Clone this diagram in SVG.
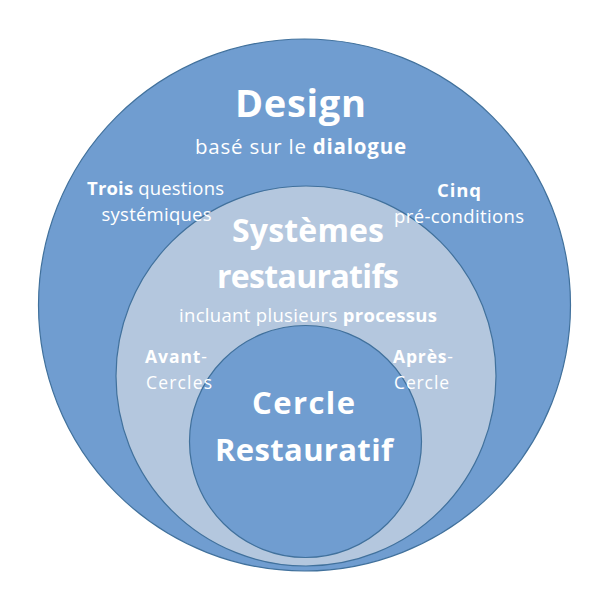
<svg xmlns="http://www.w3.org/2000/svg" width="606" height="599" viewBox="0 0 606 599">
<style>
.c{stroke:#41719c;stroke-width:1.2}
.dark{fill:#709dd0}
.light{fill:#b4c7de}
text{font-family:"Open Sans",Lato,"Liberation Sans",sans-serif;fill:#ffffff}
.b{font-weight:700}
.r{font-weight:400}
.m{text-anchor:middle}
</style>
<rect width="606" height="599" fill="#ffffff"/>
<g id="design">
<circle class="c dark" cx="304.5" cy="305" r="266"/>
</g>
<g id="systemes">
<circle class="c light" cx="306" cy="376" r="190"/>
</g>
<g id="cercle">
<circle class="c dark" cx="305.5" cy="441.5" r="116"/>
</g>
<g id="design-labels">
<text class="b m" x="300.5" y="117" font-size="38" textLength="131" lengthAdjust="spacing">Design</text>
<text class="r m" x="300.5" y="154" font-size="20.5" textLength="211" lengthAdjust="spacing">basé sur le <tspan class="b">dialogue</tspan></text>
<text class="r m" x="155.5" y="195" font-size="18.5" textLength="137" lengthAdjust="spacing"><tspan class="b">Trois</tspan> questions</text>
<text class="r m" x="156.5" y="221" font-size="18.5" textLength="110" lengthAdjust="spacing">systémiques</text>
<text class="b m" x="459" y="197" font-size="18.5" textLength="44" lengthAdjust="spacing">Cinq</text>
<text class="r m" x="459" y="223" font-size="18.5" textLength="130" lengthAdjust="spacing">pré-conditions</text>
</g>
<g id="systemes-labels">
<text class="b m" x="308" y="242" font-size="32" textLength="152" lengthAdjust="spacing">Systèmes</text>
<text class="b m" x="308" y="288" font-size="32" textLength="182" lengthAdjust="spacing">restauratifs</text>
<text class="r m" x="308" y="322" font-size="18.5" textLength="258" lengthAdjust="spacing">incluant plusieurs <tspan class="b">processus</tspan></text>
<text class="r" x="145" y="363" font-size="17.5" textLength="62" lengthAdjust="spacing"><tspan class="b">Avant</tspan>-</text>
<text class="r" x="146" y="389" font-size="17.5" textLength="66" lengthAdjust="spacing">Cercles</text>
<text class="r" x="393" y="363" font-size="17.5" textLength="60" lengthAdjust="spacing"><tspan class="b">Après</tspan>-</text>
<text class="r" x="394" y="389" font-size="17.5" textLength="55" lengthAdjust="spacing">Cercle</text>
</g>
<g id="cercle-labels">
<text class="b m" x="303.5" y="414" font-size="31" textLength="103" lengthAdjust="spacing">Cercle</text>
<text class="b m" x="304" y="461" font-size="31" textLength="178" lengthAdjust="spacing">Restauratif</text>
</g>
<g id="connectors"/>
</svg>
